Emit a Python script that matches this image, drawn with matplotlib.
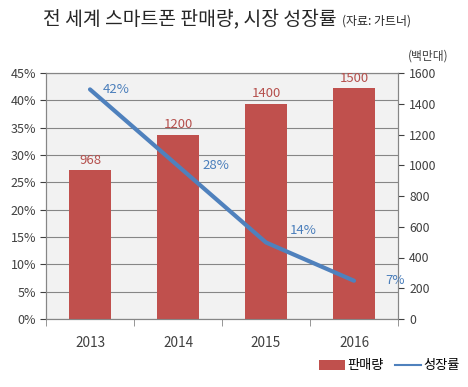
import matplotlib
matplotlib.use('Agg')
import matplotlib.pyplot as plt
from matplotlib.patches import Patch
from matplotlib.lines import Line2D

plt.rcParams['font.family'] = ['Noto Sans CJK KR', 'DejaVu Sans']

# 데이터
years = ['2013', '2014', '2015', '2016']
sales = [968, 1200, 1400, 1500]          # 판매량 (백만대)
growth = [42, 28, 14, 7]                 # 성장률 (%)
left_ticks = [0, 5, 10, 15, 20, 25, 30, 35, 40, 45]
right_ticks = [0, 200, 400, 600, 800, 1000, 1200, 1400, 1600]

bar_color = '#C0504D'
line_color = '#4F81BD'
grid_color = '#868686'
text_color = '#404040'

fig = plt.figure(figsize=(4.68, 3.87), dpi=100)
ax = fig.add_axes([46 / 468, 1 - 319 / 387, 352 / 468, 246 / 387])
ax2 = ax.twinx()

x = list(range(len(years)))

# 막대: 판매량 (오른쪽 축)
ax2.bar(x, sales, width=0.48, color=bar_color, zorder=2)
for xi, v in zip(x, sales):
    ax2.text(xi, v + 22, str(v), ha='center', va='bottom', fontsize=9.5, color='#B5504D')
ax2.set_ylim(0, 1600)
ax2.set_yticks(right_ticks)
ax2.tick_params(axis='y', labelsize=8.8, colors=text_color, length=4, direction='out', pad=4)

# 꺾은선: 성장률 (왼쪽 축 스케일) - 막대 위로 그리기 위해 ax2에 같은 스케일로
scale = 1600 / 45
ax2.plot(x, [g * scale for g in growth], color=line_color, linewidth=3.0, solid_capstyle='round', zorder=3)
label_dx = [0.14, 0.28, 0.27, 0.35]
label_dy = [0, 0, 2.2, 0]
for xi, g, dx, dy in zip(x, growth, label_dx, label_dy):
    ax2.text(xi + dx, (g + dy) * scale, f'{g}%', ha='left', va='center', fontsize=9.5,
             color='#4A7EBB', zorder=4)

ax.set_xlim(-0.5, 3.5)
ax2.set_xlim(-0.5, 3.5)
ax.set_ylim(0, 45)
ax.set_yticks(left_ticks)
ax.set_yticklabels([f'{t}%' for t in left_ticks])
ax.tick_params(axis='y', labelsize=9, colors=text_color, length=4, direction='out', pad=3)
ax.set_facecolor('#F2F2F2')
ax.yaxis.grid(True, color=grid_color, linewidth=0.8)
ax.set_axisbelow(True)

ax.set_xticks(x)
ax.set_xticklabels(years)
ax.tick_params(axis='x', length=0, labelsize=9.8, colors=text_color, pad=12)
ax.set_xticks([-0.5, 0.5, 1.5, 2.5, 3.5], minor=True)
ax.tick_params(axis='x', which='minor', length=5, direction='out', color=grid_color)

for a in (ax, ax2):
    for s in a.spines.values():
        s.set_color(grid_color)
        s.set_linewidth(0.8)

# 제목
fig.text(43 / 468, 1 - 19 / 387, '전 세계 스마트폰 판매량, 시장 성장률', fontsize=13.9,
         ha='left', va='center', color='#262626')
fig.text(342 / 468, 1 - 21 / 387, '(자료: 가트너)', fontsize=8.6,
         ha='left', va='center', color='#262626')
fig.text(428 / 468, 1 - 56 / 387, '(백만대)', fontsize=8.5, ha='center', va='center', color=text_color)

# 범례
handles = [Patch(facecolor=bar_color, edgecolor='none'),
           Line2D([0], [0], color=line_color, linewidth=1.5)]
fig.legend(handles, ['판매량', '성장률'], loc='center right',
           bbox_to_anchor=(1.0, 1 - 366 / 387), ncol=2, frameon=False,
           fontsize=9.5, handlelength=2.0, handletextpad=0.2, columnspacing=0.8,
           borderaxespad=0.2)

plt.savefig('out.png', dpi=100)
